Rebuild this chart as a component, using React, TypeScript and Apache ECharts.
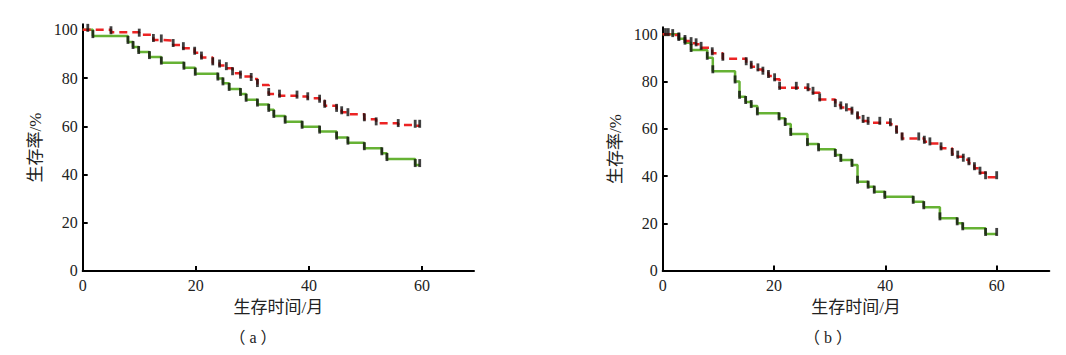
import React, { useEffect, useRef } from "react";
import * as echarts from "echarts";

const xTicks = [0, 20, 40, 60];
const yTicks = [0, 20, 40, 60, 80, 100];

const xName = "生存时间/月";
const yName = "生存率/%";
const captions = ["（ a ）", "（ b ）"];

// Panel (a)
const timesGreenA = [0, 1.8, 8.0, 8.9, 9.9, 11.8, 13.9, 17.9, 19.9, 23.9, 24.8, 25.9, 27.9, 28.9, 30.9, 32.9, 33.8, 35.8, 38.8, 41.9, 44.9, 46.9, 49.8, 52.9, 53.8, 58.8, 59.6];
const survGreenA = [100, 97.4, 95.0, 92.9, 90.8, 88.7, 86.4, 84.3, 81.8, 79.8, 77.8, 75.5, 73.4, 71.0, 69.0, 66.8, 64.3, 61.9, 59.8, 57.8, 55.3, 53.2, 50.9, 48.8, 46.4, 43.9, 43.9];

const timesRedA = [0, 0.9, 5.0, 10.0, 12.5, 13.9, 16.0, 17.8, 19.8, 21.0, 23.0, 24.2, 25.4, 26.5, 27.9, 29.8, 30.9, 32.9, 34.8, 37.9, 39.8, 41.9, 42.8, 44.9, 45.8, 46.9, 49.8, 51.9, 55.8, 58.8, 59.6];
const survRedA = [100, 100, 99.0, 98.0, 95.8, 95.6, 93.7, 92.4, 90.5, 88.5, 86.1, 85.2, 84.1, 82.0, 80.6, 79.6, 77.1, 73.4, 72.7, 72.3, 71.6, 70.6, 68.5, 66.8, 65.8, 65.0, 62.9, 61.2, 60.5, 60.2, 60.2];

// Panel (b)
const timesGreenB = [0, 0.5, 1.0, 2.9, 4.0, 5.1, 8.0, 9.0, 13.0, 13.8, 14.9, 15.9, 17.0, 20.9, 22.0, 23.0, 26.0, 28.0, 31.0, 32.0, 34.0, 35.0, 36.9, 38.0, 39.9, 45.0, 46.9, 49.8, 52.9, 53.9, 58.0, 60.0];
const survGreenB = [100, 100, 100, 98.1, 96.4, 93.3, 90.0, 84.3, 80.0, 73.5, 71.3, 69.6, 66.5, 64.4, 62.0, 57.8, 53.5, 51.3, 48.9, 46.8, 44.7, 37.6, 35.5, 33.4, 31.2, 29.1, 26.8, 22.1, 20.0, 17.9, 15.5, 15.5];

const timesRedB = [0, 1.8, 2.9, 4.0, 5.1, 6.0, 6.9, 8.9, 10.8, 15.0, 15.9, 17.1, 18.0, 19.0, 20.1, 21.0, 24.0, 26.1, 27.0, 28.2, 31.0, 32.0, 33.0, 34.0, 35.0, 36.0, 36.9, 39.0, 40.9, 42.0, 43.0, 46.0, 47.0, 48.0, 50.0, 52.0, 53.0, 54.0, 55.0, 56.0, 57.0, 58.0, 60.0];
const survRedB = [100, 99.6, 98.1, 97.1, 96.2, 95.7, 94.2, 91.9, 89.6, 87.7, 86.2, 85.1, 83.7, 82.3, 80.9, 77.3, 77.3, 76.7, 75.2, 72.4, 70.0, 69.0, 68.2, 66.8, 64.8, 63.3, 62.5, 62.5, 61.9, 58.7, 55.9, 55.9, 54.5, 53.8, 51.7, 49.3, 48.2, 46.9, 45.4, 43.3, 41.4, 39.5, 39.5];

const GREEN = "#66b234";
const RED = "#ec2424";
const FONT = "Times New Roman, Liberation Serif, Noto Sans CJK SC, serif";

function zip(t: number[], v: number[]) {
  return t.map((x, i) => [x, v[i]]);
}

function xAxis(gi: number, max: number) {
  return {
    type: "value",
    gridIndex: gi,
    min: 0,
    max,
    axisLine: { show: true, onZero: false, lineStyle: { color: "#000", width: 2 } },
    axisTick: { show: true, inside: true, length: 5, customValues: xTicks, lineStyle: { color: "#000", width: 2 } },
    axisLabel: { customValues: xTicks, margin: 7, color: "#222", fontSize: 16, fontFamily: FONT },
    splitLine: { show: false },
    name: xName,
    nameLocation: "middle",
    nameGap: 28,
    nameTextStyle: { color: "#222", fontSize: 17, fontFamily: FONT },
  };
}

function yAxis(gi: number, max: number) {
  return {
    type: "value",
    gridIndex: gi,
    min: 0,
    max,
    axisLine: { show: true, onZero: false, lineStyle: { color: "#000", width: 2 } },
    axisTick: { show: true, inside: true, length: 5, customValues: yTicks, lineStyle: { color: "#000", width: 2 } },
    axisLabel: { customValues: yTicks, margin: 5, color: "#222", fontSize: 16, fontFamily: FONT },
    splitLine: { show: false },
    name: yName,
    nameLocation: "middle",
    nameGap: 39,
    nameTextStyle: { color: "#222", fontSize: 17, fontFamily: FONT },
  };
}

function curve(gi: number, t: number[], v: number[], color: string, dashed: boolean) {
  return [
    {
      type: "line",
      xAxisIndex: gi,
      yAxisIndex: gi,
      step: "end",
      showSymbol: false,
      silent: true,
      data: zip(t, v),
      lineStyle: { color, width: 2.5, type: dashed ? [8, 5] : "solid" },
      z: dashed ? 3 : 2,
    },
    {
      type: "scatter",
      xAxisIndex: gi,
      yAxisIndex: gi,
      symbol: "rect",
      symbolSize: [2.8, 8],
      symbolOffset: [0, -2],
      silent: true,
      itemStyle: { color: "#111" },
      data: zip(t, v).slice(1),
      z: 4,
    },
  ];
}

export default function App() {
  const ref = useRef<HTMLDivElement>(null);
  useEffect(() => {
    const chart = echarts.init(ref.current!, null, { renderer: "svg" });
    const option = {
      animation: false,
      backgroundColor: "#fff",
      grid: [
        { left: 82.7, top: 24.3, width: 391.3, height: 246.6 },
        { left: 662.7, top: 27.3, width: 386.6, height: 243.3 },
      ],
      xAxis: [xAxis(0, 69.2), xAxis(1, 69.45)],
      yAxis: [yAxis(0, 102.3), yAxis(1, 102.9)],
      series: [
        ...curve(0, timesGreenA, survGreenA, GREEN, false),
        ...curve(0, timesRedA, survRedA, RED, true),
        ...curve(1, timesGreenB, survGreenB, GREEN, false),
        ...curve(1, timesRedB, survRedB, RED, true),
      ],
      graphic: [
        { type: "text", x: 253, y: 337, style: { text: captions[0], fill: "#222", fontSize: 16, fontFamily: FONT, align: "center", verticalAlign: "middle" } },
        { type: "text", x: 828, y: 337, style: { text: captions[1], fill: "#222", fontSize: 16, fontFamily: FONT, align: "center", verticalAlign: "middle" } },
      ],
    };
    chart.setOption(option as any);
    return () => chart.dispose();
  }, []);
  return (
    <div
      ref={ref}
      style={{ position: "absolute", left: 0, top: 0, width: 1066, height: 355, background: "#fff" }}
    />
  );
}
